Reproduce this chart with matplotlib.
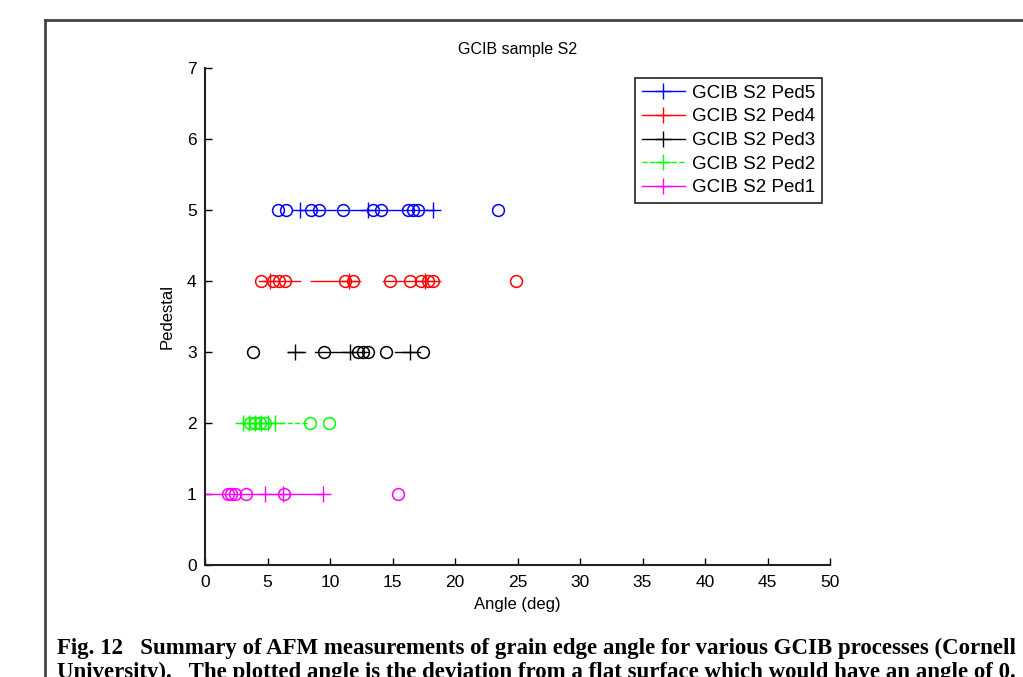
import matplotlib.pyplot as plt
import numpy as np
from matplotlib.lines import Line2D

nan = np.nan

# line segments per pedestal (nan = gap in the line)
ped5_line = [7.6, 18.2]
ped4_line = [4.3, 7.6, nan, 8.5, 12.4, nan, 14.2, 18.8]
ped3_line = [6.6, 8.0, nan, 8.8, 13.0, nan, 15.2, 17.2]
ped2_line = [3.0, 8.3]
ped1_line = [0.0, 9.4]

# + markers
ped5_plus = [7.6, 13.0, 18.2]
ped4_plus = [5.2, 11.5, 17.6]
ped3_plus = [7.2, 11.6, 16.4]
ped2_plus = [3.0, 3.5, 4.0, 4.5, 5.0, 5.6]
ped1_plus = [4.8, 6.2, 9.4]

# circle measurements
ped5_circ = [5.8, 6.5, 8.5, 9.1, 11.0, 13.4, 14.1, 16.2, 16.6, 17.0, 23.4]
ped4_circ = [4.5, 5.4, 5.9, 6.4, 11.2, 11.8, 14.8, 16.4, 17.3, 17.8, 18.2, 24.9]
ped3_circ = [3.8, 9.5, 12.2, 12.6, 13.0, 14.5, 17.4]
ped2_circ = [3.6, 4.0, 4.4, 4.8, 8.4, 9.9]
ped1_circ = [1.8, 2.1, 2.4, 3.3, 6.3, 15.4]

pedestals = [5, 4, 3, 2, 1]
labels = ["GCIB S2 Ped5", "GCIB S2 Ped4", "GCIB S2 Ped3", "GCIB S2 Ped2", "GCIB S2 Ped1"]
colors = ["#0000ff", "#ff0000", "#000000", "#00ff00", "#ff00ff"]
styles = ["-", "-", "-", "--", "-"]
line_data = [ped5_line, ped4_line, ped3_line, ped2_line, ped1_line]
plus_data = [ped5_plus, ped4_plus, ped3_plus, ped2_plus, ped1_plus]
circ_data = [ped5_circ, ped4_circ, ped3_circ, ped2_circ, ped1_circ]

plt.rcParams['font.family'] = ['Liberation Sans', 'DejaVu Sans']

fig = plt.figure(figsize=(10.23, 6.77), dpi=100)
ax = fig.add_axes([205/1023, 1 - 565/677, 625/1023, 497/677])

handles = []
for p, lab, c, ls, xl, xp, xc in zip(pedestals, labels, colors, styles,
                                     line_data, plus_data, circ_data):
    xl = np.array(xl, dtype=float)
    ax.plot(xl, np.full(xl.shape, p), ls, color=c, lw=1)
    ax.plot(xp, np.full(len(xp), p), "+", color=c, ms=11, mew=1)
    ax.plot(xc, np.full(len(xc), p), "o", color=c, ms=8.5, mfc="none",
            mew=1.1, clip_on=False)
    handles.append(Line2D([], [], color=c, ls=ls, lw=1, marker="+", ms=11,
                          mew=1, label=lab))

ax.set_xlim(0, 50)
ax.set_ylim(0, 7)
ax.set_xticks(np.arange(0, 51, 5))
ax.set_yticks(np.arange(0, 8, 1))
ax.spines["top"].set_visible(False)
ax.spines["right"].set_visible(False)
for s in ["left", "bottom"]:
    ax.spines[s].set_linewidth(1.5)
    ax.spines[s].set_color("#222222")
ax.tick_params(direction="in", length=5, width=1, labelsize=12.5)
ax.tick_params(axis="x", pad=7)
ax.tick_params(axis="y", pad=6)

ax.set_title("GCIB sample S2", fontsize=11.5, pad=10)
ax.set_xlabel("Angle (deg)", fontsize=12, labelpad=5)
ax.set_ylabel("Pedestal", fontsize=12, labelpad=9)

leg = ax.legend(handles=handles, loc="upper right",
                bbox_to_anchor=((822 - 205)/625, 1 - (78 - 68)/497),
                bbox_transform=ax.transAxes, fontsize=13.5, frameon=True,
                fancybox=False, handlelength=2.3, handletextpad=0.4,
                borderpad=0.35, labelspacing=0.35, borderaxespad=0)
leg.get_frame().set_edgecolor("#222222")
leg.get_frame().set_linewidth(1.2)
leg.get_frame().set_alpha(1)

# outer frame of the figure page
fig.add_artist(Line2D([45/1023, 45/1023], [0, 1 - 20/677], color="#444444", lw=2))
fig.add_artist(Line2D([45/1023, 1], [1 - 20/677, 1 - 20/677], color="#444444", lw=2))

cap_font = dict(fontfamily="Liberation Serif", fontweight="bold", fontsize=16.5)
fig.text(57/1023, 1 - 648/677,
         "Fig. 12   Summary of AFM measurements of grain edge angle for various GCIB processes (Cornell",
         va="center", ha="left", **cap_font)
fig.text(57/1023, 1 - 672/677,
         "University).   The plotted angle is the deviation from a flat surface which would have an angle of 0.",
         va="center", ha="left", **cap_font)

fig.savefig("out.png", dpi=100)
